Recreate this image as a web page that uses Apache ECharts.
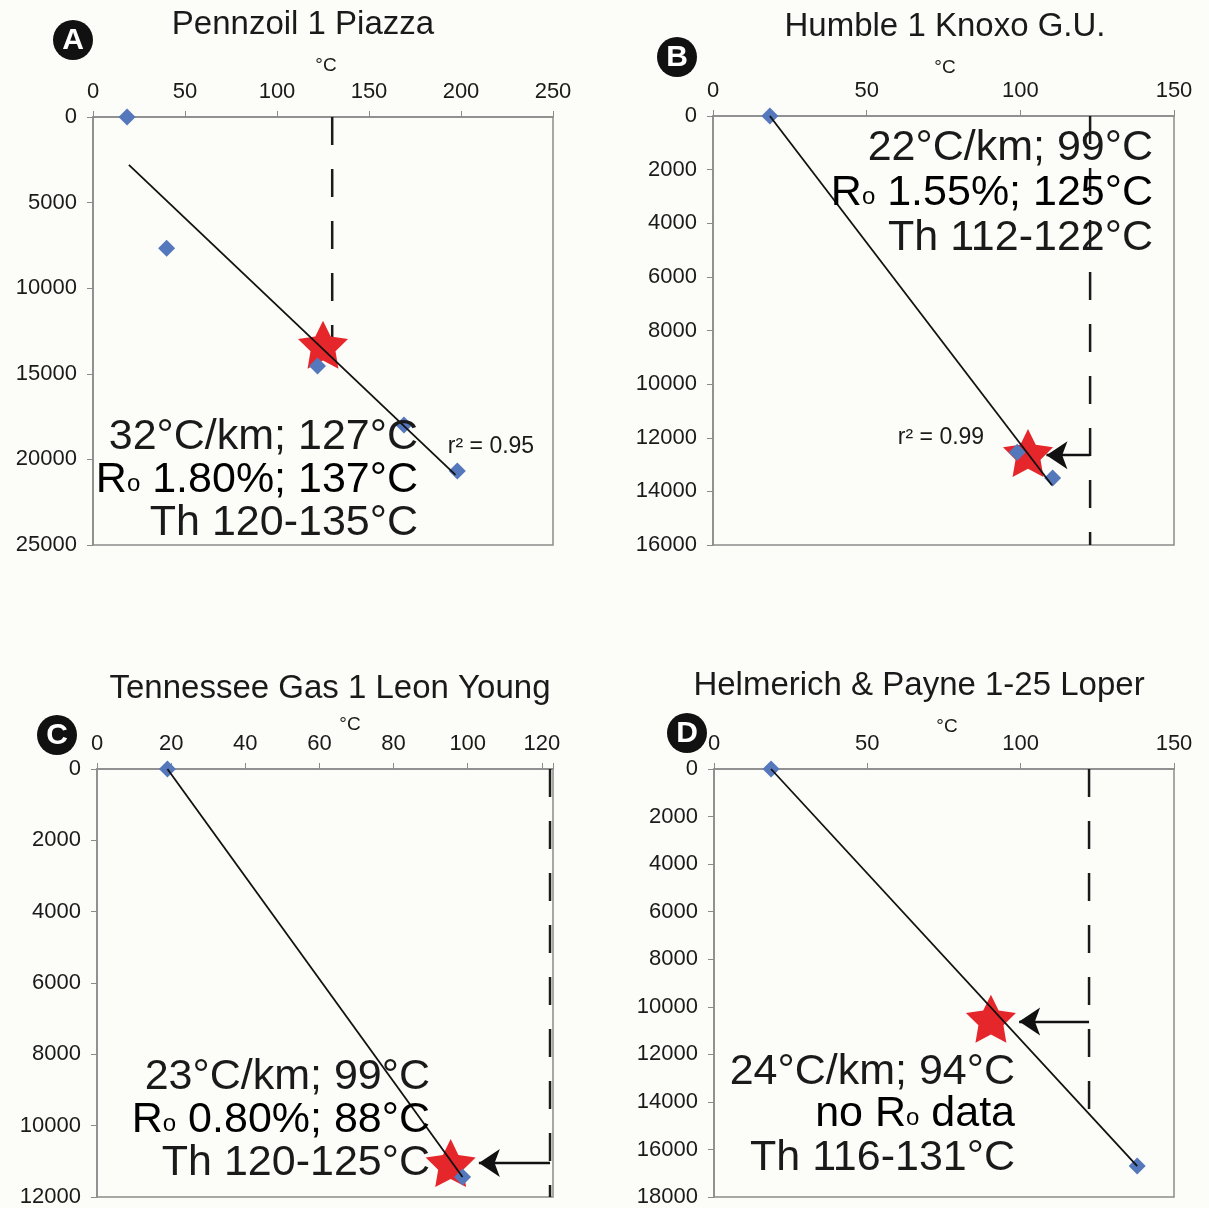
<!DOCTYPE html>
<html lang="en">
<head>
<meta charset="UTF-8">
<title>Geothermal gradients</title>
<script src="https://cdn.jsdelivr.net/npm/echarts@6/dist/echarts.min.js"></script>
<style>body{margin:0;background:#fcfcf8}</style>
</head>
<body>
<div id="main" style="width:1209px;height:1208px;"></div>
<script>
// A - Pennzoil 1 Piazza
var tempA = [18.5, 40, 122, 169, 198];
var depthA = [0, 7660, 14550, 17990, 20680];
var fitTempA = [19.5, 197];
var fitDepthA = [2800, 20900];
var starA = [125, 13300];
var limitTempA = 130;
var limitDepthA = [0, 14000];

// B - Humble 1 Knoxo G.U.
var tempB = [18.5, 99, 110.5];
var depthB = [0, 12540, 13500];
var fitTempB = [18.5, 110.3];
var fitDepthB = [0, 13770];
var starB = [102.5, 12570];
var limitTempB = 122.7;
var limitDepthB = [0, 16000];
var arrowTempB = [122.7, 108.5];
var arrowDepthB = 12650;

// C - Tennessee Gas 1 Leon Young
var tempC = [19, 98.6];
var depthC = [0, 11440];
var fitTempC = [19, 98.6];
var fitDepthC = [0, 11440];
var starC = [95.4, 11050];
var limitTempC = 122.2;
var limitDepthC = [0, 12000];
var arrowTempC = [122.2, 103];
var arrowDepthC = 11050;

// D - Helmerich & Payne 1-25 Loper
var tempD = [18.6, 138];
var depthD = [0, 16700];
var fitTempD = [18.6, 138];
var fitDepthD = [0, 16700];
var starD = [90.3, 10500];
var limitTempD = 122.3;
var limitDepthD = [0, 14460];
var arrowTempD = [122.3, 99.5];
var arrowDepthD = 10620;

var FONT = '"Liberation Sans", Arial, sans-serif';
// five point star, inner radius half of outer
var STAR = 'path://M50,0 L64.69,29.77 L97.55,34.55 L73.78,57.73 L79.39,90.45 L50,75 L20.61,90.45 L26.22,57.73 L2.45,34.55 L35.31,29.77 Z';

function pairs(xs, ys) {
    return xs.map(function (x, i) { return [x, ys[i]]; });
}

var panels = [
    { grid: {left: 93, top: 117, width: 460, height: 428}, xMax: 250, xStep: 50, yMax: 25000, yStep: 5000,
      temp: tempA, depth: depthA, fitT: fitTempA, fitD: fitDepthA, star: starA,
      limT: limitTempA, limD: limitDepthA },
    { grid: {left: 713, top: 116, width: 461, height: 429}, xMax: 150, xStep: 50, yMax: 16000, yStep: 2000,
      temp: tempB, depth: depthB, fitT: fitTempB, fitD: fitDepthB, star: starB,
      limT: limitTempB, limD: limitDepthB, arrT: arrowTempB, arrD: arrowDepthB },
    { grid: {left: 97, top: 769, width: 456, height: 428}, xMax: 123, xStep: 20, yMax: 12000, yStep: 2000,
      temp: tempC, depth: depthC, fitT: fitTempC, fitD: fitDepthC, star: starC,
      limT: limitTempC, limD: limitDepthC, arrT: arrowTempC, arrD: arrowDepthC },
    { grid: {left: 714, top: 769, width: 460, height: 429}, xMax: 150, xStep: 50, yMax: 18000, yStep: 2000,
      temp: tempD, depth: depthD, fitT: fitTempD, fitD: fitDepthD, star: starD,
      limT: limitTempD, limD: limitDepthD, arrT: arrowTempD, arrD: arrowDepthD }
];

var grids = [], xAxes = [], yAxes = [], series = [];
panels.forEach(function (p, i) {
    grids.push(Object.assign({show: true, borderColor: '#8a8a8a', borderWidth: 1.5, backgroundColor: 'transparent'}, p.grid));
    xAxes.push({
        type: 'value', gridIndex: i, position: 'top', min: 0, max: p.xMax, interval: p.xStep,
        splitLine: {show: false},
        axisLine: {lineStyle: {color: '#8a8a8a', width: 1.5}},
        axisTick: {inside: false, length: 6, lineStyle: {color: '#8a8a8a'}},
        axisLabel: {margin: 14, fontSize: 22, color: '#1a1a1a', fontFamily: FONT,
            formatter: function (v) { return v % p.xStep === 0 ? String(v) : ''; }}
    });
    yAxes.push({
        type: 'value', gridIndex: i, inverse: true, min: 0, max: p.yMax, interval: p.yStep,
        splitLine: {show: false},
        axisLine: {lineStyle: {color: '#8a8a8a', width: 1.5}},
        axisTick: {inside: false, length: 6, lineStyle: {color: '#8a8a8a'}},
        axisLabel: {margin: 16, fontSize: 22, color: '#1a1a1a', fontFamily: FONT,
            formatter: function (v) { return String(v); }}
    });
    series.push({
        type: 'line', xAxisIndex: i, yAxisIndex: i, z: 1, symbol: 'none', silent: true,
        data: [[p.limT, p.limD[0]], [p.limT, p.limD[1]]],
        lineStyle: {color: '#1a1a1a', width: 2.5, type: [28, 24]}
    });
    series.push({
        type: 'scatter', xAxisIndex: i, yAxisIndex: i, z: 2, symbol: STAR, symbolSize: [50, 48],
        data: [p.star], itemStyle: {color: '#e5262b', opacity: 1}
    });
    series.push({
        type: 'scatter', xAxisIndex: i, yAxisIndex: i, z: 3, symbol: 'diamond', symbolSize: 17,
        data: pairs(p.temp, p.depth), itemStyle: {color: '#5577bb', opacity: 1}
    });
    series.push({
        type: 'line', xAxisIndex: i, yAxisIndex: i, z: 4, symbol: 'none', silent: true,
        data: pairs(p.fitT, p.fitD), lineStyle: {color: '#111', width: 1.8}
    });
    if (p.arrT) {
        series.push({
            type: 'lines', coordinateSystem: 'cartesian2d', xAxisIndex: i, yAxisIndex: i, z: 5,
            symbol: ['none', 'arrow'], symbolSize: 21,
            data: [{coords: [[p.arrT[0], p.arrD], [p.arrT[1], p.arrD]]}],
            lineStyle: {color: '#111', width: 2.4, opacity: 1}
        });
    }
});

function txt(x, y, text, size, align) {
    return {
        type: 'text', x: x, y: y, z: 10,
        style: {text: text, font: size + 'px ' + FONT, fill: '#1a1a1a',
            textAlign: align || 'center', textVerticalAlign: 'middle'}
    };
}

// "R" with a small lowered "o" followed by the rest of the line
function roLine(x, y, before, after, size) {
    return {
        type: 'text', x: x, y: y, z: 10,
        style: {
            text: '{a|' + before + 'R}{b|o}{a|' + after + '}',
            textAlign: 'right', textVerticalAlign: 'middle',
            rich: {
                a: {fontSize: size, fontFamily: FONT, color: '#1a1a1a', lineHeight: size, verticalAlign: 'bottom'},
                b: {fontSize: Math.round(size * 0.55), fontFamily: FONT, color: '#1a1a1a', lineHeight: size * 0.55, verticalAlign: 'bottom', padding: [0, 0, 5, 0]}
            }
        }
    };
}

function badge(cx, cy, letter) {
    return [
        {type: 'circle', shape: {cx: cx, cy: cy, r: 20}, style: {fill: '#111'}, z: 10},
        {type: 'text', x: cx, y: cy + 1, z: 11,
         style: {text: letter, font: 'bold 30px ' + FONT, fill: '#fff', textAlign: 'center', textVerticalAlign: 'middle'}}
    ];
}

var BIG = 43;
var graphics = [
    txt(303, 25, 'Pennzoil 1 Piazza', 33),
    txt(945, 27, 'Humble 1 Knoxo G.U.', 33),
    txt(330, 689, 'Tennessee Gas 1 Leon Young', 33),
    txt(919, 686, 'Helmerich & Payne 1-25 Loper', 33),
    txt(326, 66, '°C', 19), txt(945, 68, '°C', 19), txt(350, 725, '°C', 19), txt(947, 727, '°C', 19),
    txt(491, 447, 'r² = 0.95', 23),
    txt(941, 438, 'r² = 0.99', 23),
    // A
    txt(418, 437, '32°C/km; 127°C', BIG, 'right'),
    roLine(418, 480, '', ' 1.80%; 137°C', BIG),
    txt(418, 523, 'Th 120-135°C', BIG, 'right'),
    // B
    txt(1153, 148, '22°C/km; 99°C', BIG, 'right'),
    roLine(1153, 193, '', ' 1.55%; 125°C', BIG),
    txt(1153, 238, 'Th 112-122°C', BIG, 'right'),
    // C
    txt(430, 1077, '23°C/km; 99°C', BIG, 'right'),
    roLine(430, 1120, '', ' 0.80%; 88°C', BIG),
    txt(430, 1163, 'Th 120-125°C', BIG, 'right'),
    // D
    txt(1015, 1072, '24°C/km; 94°C', BIG, 'right'),
    roLine(1015, 1114, 'no ', ' data', BIG),
    txt(1015, 1158, 'Th 116-131°C', BIG, 'right')
].concat(badge(73, 40, 'A'), badge(677, 57, 'B'), badge(57, 735, 'C'), badge(687, 733, 'D'));

var chart = echarts.init(document.getElementById('main'));
chart.setOption({
    animation: false,
    backgroundColor: '#fcfcf8',
    grid: grids,
    xAxis: xAxes,
    yAxis: yAxes,
    series: series,
    graphic: graphics
});
</script>
</body>
</html>
